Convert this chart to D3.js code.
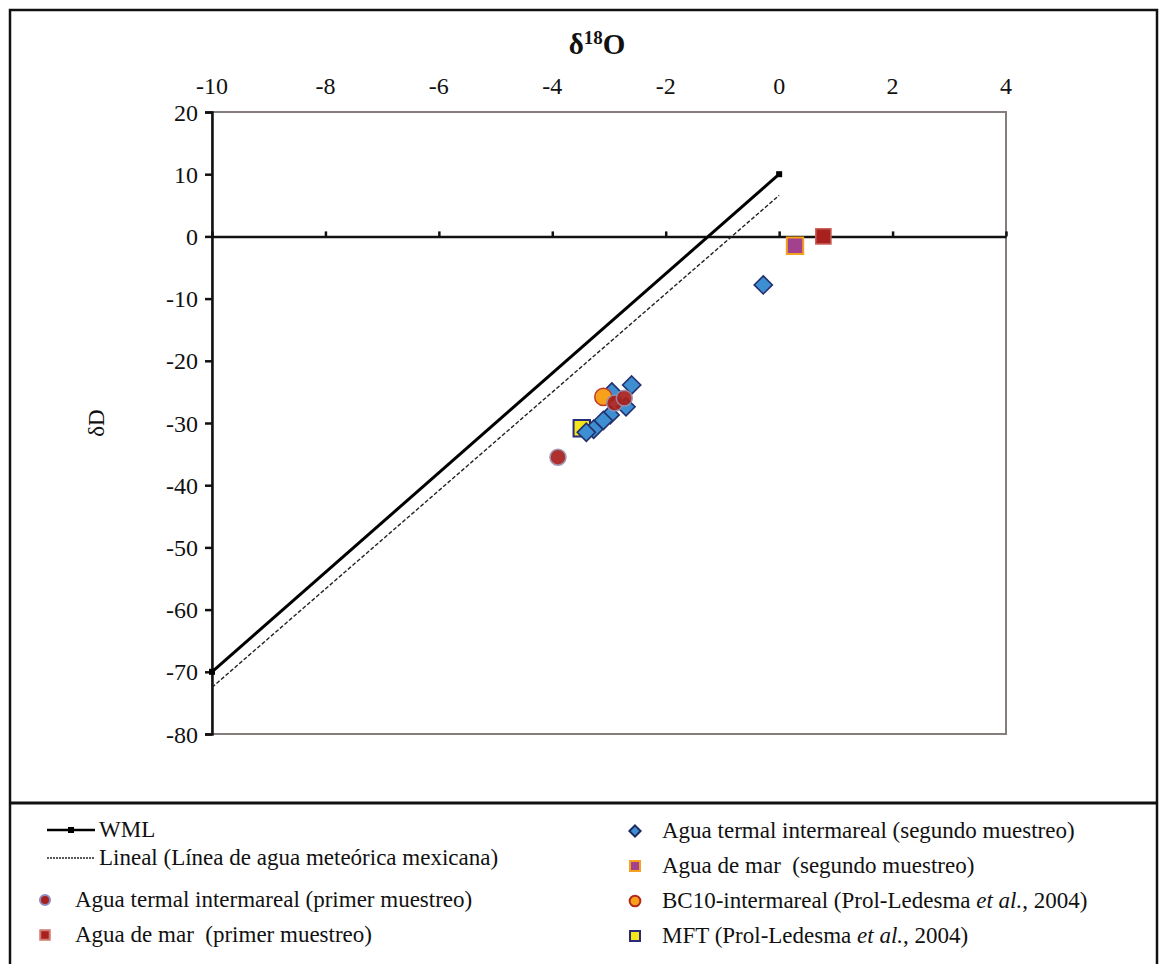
<!DOCTYPE html>
<html>
<head>
<meta charset="utf-8">
<script src="https://cdn.jsdelivr.net/npm/d3@7"></script>
<style>
  body { margin: 0; background: #fff; }
  text { font-family: "Liberation Serif", "Times New Roman", serif; fill: #111; }
</style>
</head>
<body>
<div id="chart"></div>
<script>
// tick values
var xTicks = [-10, -8, -6, -4, -2, 0, 2, 4];
var yTicks = [20, 10, 0, -10, -20, -30, -40, -50, -60, -70, -80];

// WML: dD = 8 d18O + 10
var wml = [{x: -10, y: -70}, {x: 0, y: 10}];
// Linea de agua meteorica mexicana (lineal)
var mexLine = [{x: -10, y: -72.5}, {x: 0, y: 6.6}];

// samples
var termalPrimer = [[-3.9, -35.5], [-2.9, -26.8], [-2.73, -26.0]];
var marPrimer = [[0.78, 0.0]];
var termalSegundo = [[-0.28, -7.8], [-2.6, -23.9], [-2.95, -25.0], [-2.7, -27.4],
                     [-2.98, -28.7], [-3.1, -29.6], [-3.27, -31.0], [-3.4, -31.5]];
var marSegundo = [[0.28, -1.5]];
var bc10 = [[-3.1, -25.8]];
var mft = [[-3.48, -30.85]];

var W = 1159, H = 964;
var svg = d3.select("#chart").append("svg")
  .attr("width", W)
  .attr("height", H);

var fmt = function(d){ return String(d).replace("−", "-"); };

// outer frame and divider
svg.append("rect")
  .attr("x", 10).attr("y", 10)
  .attr("width", 1147).attr("height", 970)
  .style("fill", "none").style("stroke", "#111").style("stroke-width", 2.5);
svg.append("line")
  .attr("x1", 10).attr("x2", 1157).attr("y1", 803).attr("y2", 803)
  .style("stroke", "#111").style("stroke-width", 3);

var x = d3.scaleLinear().domain([-10, 4]).range([212, 1006]);
var y = d3.scaleLinear().domain([20, -80]).range([112, 734]);

// plot frame
svg.append("rect")
  .attr("x", x(-10)).attr("y", y(20))
  .attr("width", x(4) - x(-10)).attr("height", y(-80) - y(20))
  .style("fill", "none").style("stroke", "#857d7b").style("stroke-width", 2);

// y axis at x = -10
var yAxis = svg.append("g")
  .attr("transform", "translate(" + x(-10) + ",0)")
  .call(d3.axisLeft(y).tickValues(yTicks).tickSize(7).tickPadding(7).tickFormat(fmt));
yAxis.select(".domain").style("stroke", "#111").style("stroke-width", 2.5);
yAxis.selectAll(".tick line").style("stroke", "#111").style("stroke-width", 2.5);
yAxis.selectAll(".tick text")
  .attr("dy", "0.34em")
  .style("font-family", "'Liberation Serif', serif").style("font-size", "24px").style("fill", "#111");

// x axis drawn along dD = 0, labels at top
var xAxis = svg.append("g")
  .attr("transform", "translate(0," + y(0) + ")")
  .call(d3.axisTop(x).tickValues(xTicks).tickSize(5).tickSizeOuter(0).tickFormat(""));
xAxis.select(".domain").style("stroke", "#111").style("stroke-width", 2.5);
xAxis.selectAll(".tick line").style("stroke", "#111").style("stroke-width", 2.5);

svg.append("g").selectAll("text")
  .data(xTicks)
  .enter().append("text")
  .attr("x", function(d){ return x(d); })
  .attr("y", 94)
  .attr("text-anchor", "middle")
  .style("font-size", "24px")
  .text(fmt);

// axis titles
var title = svg.append("text")
  .attr("x", 597).attr("y", 54)
  .attr("text-anchor", "middle")
  .style("font-size", "29px").style("font-weight", "bold");
title.append("tspan").text("δ");
title.append("tspan").attr("dy", -10).style("font-size", "19px").text("18");
title.append("tspan").attr("dy", 10).text("O");

svg.append("text")
  .attr("transform", "translate(104," + y(-30) + ") rotate(-90)")
  .attr("text-anchor", "middle")
  .style("font-size", "23px")
  .text("δD");

var line = d3.line()
  .x(function(d){ return x(d.x); })
  .y(function(d){ return y(d.y); });

// lines
svg.append("path")
  .attr("d", line(mexLine))
  .style("fill", "none").style("stroke", "#222").style("stroke-width", 1.4)
  .style("stroke-dasharray", "4,2");
svg.append("path")
  .attr("d", line(wml))
  .style("fill", "none").style("stroke", "#000").style("stroke-width", 3);
svg.append("g").selectAll("rect")
  .data(wml)
  .enter().append("rect")
  .attr("x", function(d){ return x(d.x) - 3; })
  .attr("y", function(d){ return y(d.y) - 3; })
  .attr("width", 6).attr("height", 6)
  .style("fill", "#000");

var sym = {
  circle: d3.symbol().type(d3.symbolCircle),
  square: d3.symbol().type(d3.symbolSquare),
  diamond: d3.symbol().type(d3.symbolDiamond2)
};

function drawPoints(data, shape, size, fill, stroke, sw, opacity){
  svg.append("g").selectAll("path")
    .data(data)
    .enter().append("path")
    .attr("d", sym[shape].size(size)())
    .attr("transform", function(d){
      return "translate(" + x(d[0]) + "," + y(d[1]) + ")";
    })
    .style("fill", fill)
    .style("stroke", stroke)
    .style("stroke-width", sw)
    .style("opacity", opacity || 1);
}

drawPoints(mft, "square", 270, "#f4e61a", "#2a2a7a", 2);
drawPoints(termalSegundo, "diamond", 210, "#3e8fd2", "#23306e", 1.6);
drawPoints(bc10, "circle", 230, "#f7a11a", "#c0392b", 1.5);
drawPoints(termalPrimer, "circle", 200, "#a8201c", "#9a8fae", 1.5, 0.92);
drawPoints(marSegundo, "square", 270, "#a2418d", "#f5a21e", 2);
drawPoints(marPrimer, "square", 230, "#a8211e", "#c9625a", 1.5);

// legend
var legend = svg.append("g").style("font-size", "23px");

legend.append("line")
  .attr("x1", 47).attr("x2", 95).attr("y1", 830).attr("y2", 830)
  .style("stroke", "#000").style("stroke-width", 2.5);
legend.append("rect")
  .attr("x", 68).attr("y", 827).attr("width", 6).attr("height", 6).style("fill", "#000");
legend.append("text").attr("x", 99).attr("y", 837).text("WML");

legend.append("line")
  .attr("x1", 47).attr("x2", 95).attr("y1", 858).attr("y2", 858)
  .style("stroke", "#222").style("stroke-width", 1.3).style("stroke-dasharray", "2,1");
legend.append("text").attr("x", 99).attr("y", 865).text("Lineal (Línea de agua meteórica mexicana)");

var legendItems = [
  {lx: 45, tx: 75, ly: 900, shape: "circle", size: 80, fill: "#a8201c", stroke: "#8e8fc0", label: "Agua termal intermareal (primer muestreo)"},
  {lx: 45, tx: 75, ly: 935, shape: "square", size: 90, fill: "#a8211e", stroke: "#d07a72", label: "Agua de mar  (primer muestreo)"},
  {lx: 635, tx: 662, ly: 831, shape: "diamond", size: 80, fill: "#3e8fd2", stroke: "#1c2860", label: "Agua termal intermareal (segundo muestreo)"},
  {lx: 635, tx: 662, ly: 866, shape: "square", size: 100, fill: "#a2418d", stroke: "#f5a21e", label: "Agua de mar  (segundo muestreo)"},
  {lx: 635, tx: 662, ly: 901, shape: "circle", size: 90, fill: "#f7a11a", stroke: "#b32a1c", label: "BC10-intermareal (Prol-Ledesma |et al.|, 2004)"},
  {lx: 635, tx: 662, ly: 936, shape: "square", size: 100, fill: "#f4e61a", stroke: "#2a2a7a", label: "MFT (Prol-Ledesma |et al.|, 2004)"}
];

legendItems.forEach(function(d){
  legend.append("path")
    .attr("d", sym[d.shape].size(d.size)())
    .attr("transform", "translate(" + d.lx + "," + d.ly + ")")
    .style("fill", d.fill).style("stroke", d.stroke).style("stroke-width", 2);
  var t = legend.append("text").attr("x", d.tx).attr("y", d.ly + 7)
    .style("white-space", "pre");
  d.label.split("|").forEach(function(part, i){
    t.append("tspan").style("font-style", i % 2 ? "italic" : "normal").text(part);
  });
});
</script>
</body>
</html>
